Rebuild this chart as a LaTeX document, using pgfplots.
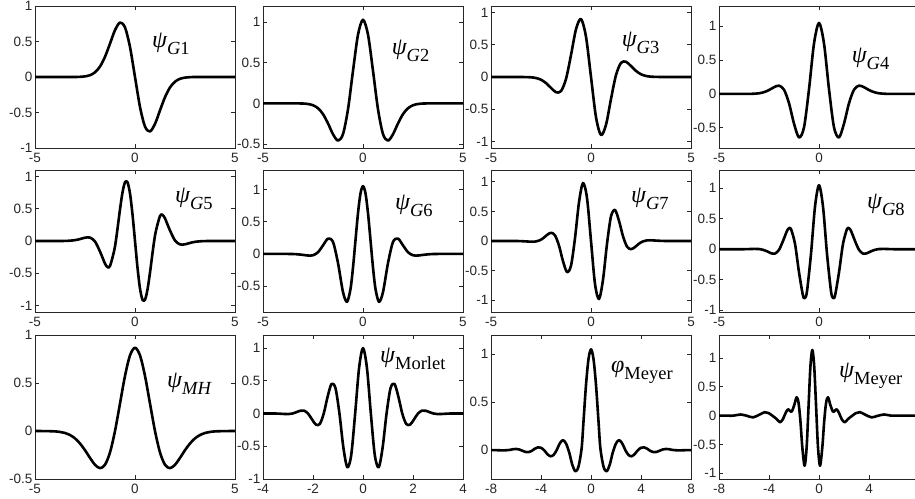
\documentclass[border=0pt]{standalone}
\usepackage{fontspec}
\setmainfont{Liberation Sans}
\newfontfamily\tnr{Liberation Serif}
\usepackage{pgfplots}
\pgfplotsset{compat=1.18}

\newcommand\wl[2]{{\fontsize{24}{26}\selectfont\tnr\itshape #1}\raisebox{-7pt}{\fontsize{18.5}{20}\selectfont\tnr #2}}

\pgfplotsset{
  wav/.style={
    scale only axis, width=200pt, height=142pt, anchor=north west,
    xmin=-5, xmax=5, xtick={-5,0,5},
    ytick={-1,-0.5,0,0.5,1},
    xtick pos=both, ytick pos=both,
    xticklabel pos=lower, yticklabel pos=left,
    tick align=inside, major tick length=4pt,
    axis line style={black!85, line width=0.7pt},
    every tick/.style={black!85, line width=0.7pt},
    tick label style={font=\fontsize{13.5}{14}\selectfont, text=black!85},
    yticklabel style={xshift=1pt},
    xticklabel style={yshift=-2pt},
    /pgf/number format/assume math mode=true,
  },
  cv/.style={black, line width=2.6pt, smooth, no marks, line join=round},
}

\begin{document}
\begin{tikzpicture}

% ---- row 1 ----
\begin{axis}[wav, at={(35pt,492pt)}, ymin=-1, ymax=1]
\addplot[cv] coordinates {
 (-5,0) (-4,0) (-3,0) (-2.75,0.0026) (-2.5,0.0087) (-2.25,0.0256) (-2,0.0657)
 (-1.75,0.147) (-1.5,0.284) (-1.25,0.470) (-1,0.660) (-0.75,0.767) (-0.5,0.699)
 (-0.25,0.422) (0,0) (0.25,-0.422) (0.5,-0.699) (0.75,-0.767) (1,-0.660)
 (1.25,-0.470) (1.5,-0.284) (1.75,-0.147) (2,-0.0657) (2.25,-0.0256)
 (2.5,-0.0087) (2.75,-0.0026) (3,0) (4,0) (5,0)};
\node[anchor=west, inner sep=0pt] at (rel axis cs:0.585,0.736) {\wl{ψ}{\textit{G}1}};
\end{axis}

\begin{axis}[wav, at={(263pt,492pt)}, ymin=-0.55, ymax=1.2]
\addplot[cv] coordinates {
 (-5,0) (-4,0) (-3.5,0) (-3,-0.002) (-2.75,-0.008) (-2.5,-0.023) (-2.25,-0.060)
 (-2,-0.132) (-1.75,-0.247) (-1.5,-0.380) (-1.25,-0.459) (-1,-0.379)
 (-0.75,-0.073) (-0.5,0.401) (-0.25,0.847) (0,1.03) (0.25,0.847) (0.5,0.401)
 (0.75,-0.073) (1,-0.379) (1.25,-0.459) (1.5,-0.380) (1.75,-0.247) (2,-0.132)
 (2.25,-0.060) (2.5,-0.023) (2.75,-0.008) (3,-0.002) (3.5,0) (4,0) (5,0)};
\node[anchor=west, inner sep=0pt] at (rel axis cs:0.643,0.683) {\wl{ψ}{\textit{G}2}};
\end{axis}

\begin{axis}[wav, at={(491pt,492pt)}, ymin=-1.1, ymax=1.1]
\addplot[cv] coordinates {
 (-5,0) (-4,0) (-3.5,0) (-3,-0.005) (-2.75,-0.016) (-2.5,-0.042) (-2.25,-0.094)
 (-2,-0.169) (-1.75,-0.236) (-1.5,-0.219) (-1.25,-0.030) (-1,0.340)
 (-0.75,0.740) (-0.5,0.899) (-0.25,0.623) (0,0) (0.25,-0.623) (0.5,-0.899)
 (0.75,-0.740) (1,-0.340) (1.25,0.030) (1.5,0.219) (1.75,0.236) (2,0.169)
 (2.25,0.094) (2.5,0.042) (2.75,0.016) (3,0.005) (3.5,0) (4,0) (5,0)};
\node[anchor=west, inner sep=0pt] at (rel axis cs:0.653,0.743) {\wl{ψ}{\textit{G}3}};
\end{axis}

\begin{axis}[wav, at={(719pt,492pt)}, ymin=-0.8, ymax=1.3, xtick={-5,0}]
\addplot[cv] coordinates {
 (-5,0) (-4,0) (-3.5,0) (-3.25,0.003) (-3,0.009) (-2.75,0.026) (-2.5,0.057)
 (-2.25,0.099) (-2,0.122) (-1.75,0.062) (-1.5,-0.138) (-1.25,-0.439)
 (-1,-0.644) (-0.75,-0.495) (-0.5,0.068) (-0.25,0.745) (0,1.05) (0.25,0.745)
 (0.5,0.068) (0.75,-0.495) (1,-0.644) (1.25,-0.439) (1.5,-0.138) (1.75,0.062)
 (2,0.122) (2.25,0.099) (2.5,0.057) (2.75,0.026) (3,0.009) (3.25,0.003)
 (3.5,0) (4,0) (5,0)};
\node[anchor=west, inner sep=0pt] at (rel axis cs:0.663,0.627) {\wl{ψ}{\textit{G}4}};
\end{axis}

% ---- row 2 ----
\begin{axis}[wav, at={(35pt,328pt)}, ymin=-1.1, ymax=1.1]
\addplot[cv] coordinates {
 (-5,0) (-4,0) (-3.5,0.001) (-3.25,0.005) (-3,0.013) (-2.75,0.030) (-2.5,0.051)
 (-2.25,0.053) (-2,-0.008) (-1.75,-0.163) (-1.5,-0.351) (-1.375,-0.403)
 (-1.25,-0.387) (-1,-0.084) (-0.75,0.489) (-0.625,0.752) (-0.5,0.910)
 (-0.375,0.911) (-0.25,0.737) (-0.125,0.412) (0,0) (0.125,-0.412)
 (0.25,-0.737) (0.375,-0.911) (0.5,-0.910) (0.625,-0.752) (0.75,-0.489)
 (1,0.084) (1.25,0.387) (1.375,0.403) (1.5,0.351) (1.75,0.163) (2,0.008)
 (2.25,-0.053) (2.5,-0.051) (2.75,-0.030) (3,-0.013) (3.25,-0.005)
 (3.5,-0.001) (4,0) (5,0)};
\node[anchor=west, inner sep=0pt] at (rel axis cs:0.70,0.80) {\wl{ψ}{\textit{G}5}};
\end{axis}

\begin{axis}[wav, at={(263pt,328pt)}, ymin=-0.9, ymax=1.3]
\addplot[cv] coordinates {
 (-5,0) (-4,0) (-3.5,-0.002) (-3.25,-0.007) (-3,-0.015) (-2.75,-0.025)
 (-2.5,-0.021) (-2.25,0.026) (-2,0.132) (-1.75,0.237) (-1.5,0.185)
 (-1.25,-0.142) (-1,-0.592) (-0.8,-0.743) (-0.625,-0.544) (-0.5,-0.211)
 (-0.375,0.213) (-0.25,0.632) (-0.125,0.938) (0,1.05) (0.125,0.938)
 (0.25,0.632) (0.375,0.213) (0.5,-0.211) (0.625,-0.544) (0.8,-0.743)
 (1,-0.592) (1.25,-0.142) (1.5,0.185) (1.75,0.237) (2,0.132) (2.25,0.026)
 (2.5,-0.021) (2.75,-0.025) (3,-0.015) (3.25,-0.007) (3.5,-0.002) (4,0) (5,0)};
\node[anchor=west, inner sep=0pt] at (rel axis cs:0.66,0.746) {\wl{ψ}{\textit{G}6}};
\end{axis}

\begin{axis}[wav, at={(491pt,328pt)}, ymin=-1.2, ymax=1.2]
\addplot[cv] coordinates {
 (-5,0) (-3.8,0) (-3.4,-0.004) (-3.2,-0.008) (-3,-0.012) (-2.8,-0.010)
 (-2.6,0.006) (-2.4,0.045) (-2.2,0.102) (-2,0.139) (-1.8,0.095) (-1.6,-0.079)
 (-1.4,-0.341) (-1.2,-0.524) (-1,-0.417) (-0.8,0.048) (-0.6,0.654)
 (-0.4,0.980) (-0.2,0.727) (0,0) (0.2,-0.727) (0.4,-0.980) (0.6,-0.654)
 (0.8,-0.048) (1,0.417) (1.2,0.524) (1.4,0.341) (1.6,0.079) (1.8,-0.095)
 (2,-0.139) (2.2,-0.102) (2.4,-0.045) (2.6,-0.006) (2.8,0.010) (3,0.012)
 (3.2,0.008) (3.4,0.004) (3.8,0) (5,0)};
\node[anchor=west, inner sep=0pt] at (rel axis cs:0.70,0.80) {\wl{ψ}{\textit{G}7}};
\end{axis}

\begin{axis}[wav, at={(719pt,328pt)}, ymin=-1.03, ymax=1.3, xtick={-5,0}]
\addplot[cv] coordinates {
 (-5,0) (-3.8,0) (-3.4,0.004) (-3.2,0.005) (-3,0.003) (-2.8,-0.009)
 (-2.6,-0.034) (-2.4,-0.065) (-2.2,-0.071) (-2,-0.010) (-1.8,0.135)
 (-1.6,0.301) (-1.5,0.344) (-1.4,0.331) (-1.2,0.088) (-1,-0.379) (-0.8,-0.762)
 (-0.7,-0.798) (-0.6,-0.689) (-0.4,-0.075) (-0.2,0.699) (0,1.05) (0.2,0.699)
 (0.4,-0.075) (0.6,-0.689) (0.7,-0.798) (0.8,-0.762) (1,-0.379) (1.2,0.088)
 (1.4,0.331) (1.5,0.344) (1.6,0.301) (1.8,0.135) (2,-0.010) (2.2,-0.071)
 (2.4,-0.065) (2.6,-0.034) (2.8,-0.009) (3,0.003) (3.2,0.005) (3.4,0.004)
 (3.8,0) (5,0)};
\node[anchor=west, inner sep=0pt] at (rel axis cs:0.74,0.754) {\wl{ψ}{\textit{G}8}};
\end{axis}

% ---- row 3 ----
\begin{axis}[wav, at={(35pt,163pt)}, height=144pt, ymin=-0.5, ymax=1]
\addplot[cv] coordinates {
 (-5,0) (-4.5,-0.001) (-4,-0.004) (-3.75,-0.010) (-3.5,-0.021) (-3.25,-0.042)
 (-3,-0.077) (-2.75,-0.130) (-2.5,-0.200) (-2.25,-0.280) (-2,-0.352)
 (-1.75,-0.387) (-1.5,-0.352) (-1.25,-0.223) (-1,0) (-0.75,0.286) (-0.5,0.574)
 (-0.25,0.788) (0,0.867) (0.25,0.788) (0.5,0.574) (0.75,0.286) (1,0)
 (1.25,-0.223) (1.5,-0.352) (1.75,-0.387) (2,-0.352) (2.25,-0.280)
 (2.5,-0.200) (2.75,-0.130) (3,-0.077) (3.25,-0.042) (3.5,-0.021)
 (3.75,-0.010) (4,-0.004) (4.5,-0.001) (5,0)};
\node[anchor=west, inner sep=0pt] at (rel axis cs:0.66,0.66) {\wl{ψ}{\textit{MH}}};
\end{axis}

\begin{axis}[wav, at={(263pt,163pt)}, height=144pt, ymin=-1, ymax=1.2,
  xmin=-4, xmax=4, xtick={-4,-2,0,2,4}]
\addplot[cv] coordinates {
 (-4,0) (-3.456,0) (-3.299,-0.003) (-3.142,-0.007) (-2.985,-0.008) (-2.827,0)
 (-2.670,0.020) (-2.513,0.043) (-2.356,0.044) (-2.199,0) (-2.042,-0.088)
 (-1.885,-0.169) (-1.728,-0.159) (-1.571,0) (-1.414,0.260) (-1.257,0.454)
 (-1.100,0.386) (-0.942,0) (-0.785,-0.519) (-0.628,-0.821) (-0.471,-0.633)
 (-0.314,0) (-0.157,0.698) (0,1) (0.157,0.698) (0.314,0) (0.471,-0.633)
 (0.628,-0.821) (0.785,-0.519) (0.942,0) (1.100,0.386) (1.257,0.454)
 (1.414,0.260) (1.571,0) (1.728,-0.159) (1.885,-0.169) (2.042,-0.088)
 (2.199,0) (2.356,0.044) (2.513,0.043) (2.670,0.020) (2.827,0)
 (2.985,-0.008) (3.142,-0.007) (3.299,-0.003) (3.456,0) (4,0)};
\node[anchor=west, inner sep=0pt] at (rel axis cs:0.585,0.833) {\wl{ψ}{Morlet}};
\end{axis}

\begin{axis}[wav, at={(491pt,163pt)}, height=144pt, ymin=-0.3, ymax=1.2,
  xmin=-8, xmax=8, xtick={-8,-4,0,4,8}]
\addplot[cv] coordinates {
 (-8,0) (-7.5,0) (-7,-0.002) (-6.5,0.003) (-6.25,0.010) (-6,0.013)
 (-5.75,0.008) (-5.5,-0.005) (-5.25,-0.018) (-5,-0.020) (-4.75,-0.008)
 (-4.5,0.015) (-4.25,0.030) (-4,0.025) (-3.75,0) (-3.5,-0.040) (-3.25,-0.063)
 (-3,-0.050) (-2.75,0) (-2.5,0.070) (-2.25,0.105) (-2,0.070) (-1.75,-0.020)
 (-1.5,-0.150) (-1.25,-0.220) (-1,-0.170) (-0.75,0.02) (-0.6,0.300) (-0.4,0.680)
 (-0.2,0.950) (0,1.05) (0.2,0.950) (0.4,0.680) (0.6,0.300) (0.75,0.02)
 (1,-0.170) (1.25,-0.220) (1.5,-0.150) (1.75,-0.020) (2,0.070) (2.25,0.105)
 (2.5,0.070) (2.75,0) (3,-0.050) (3.25,-0.063) (3.5,-0.040) (3.75,0)
 (4,0.025) (4.25,0.030) (4.5,0.015) (4.75,-0.008) (5,-0.020) (5.25,-0.018)
 (5.5,-0.005) (5.75,0.008) (6,0.013) (6.25,0.010) (6.5,0.003) (7,-0.002)
 (7.5,0) (8,0)};
\node[anchor=west, inner sep=0pt] at (rel axis cs:0.60,0.743) {\wl{φ}{Meyer}};
\end{axis}

\begin{axis}[wav, at={(719pt,163pt)}, height=144pt, ymin=-1.1, ymax=1.4,
  xmin=-8, xmax=8, xtick={-8,-4,0,4}]
\addplot[cv] coordinates {
 (-8,0) (-7.535,0) (-6.835,0) (-6.27,0.02) (-5.735,-0.005) (-5.27,-0.03)
 (-4.735,0.02) (-4.35,0.06) (-4.035,0.045) (-3.735,0) (-3.385,-0.06)
 (-3.12,-0.115) (-2.885,-0.06) (-2.685,0.04) (-2.485,0.11) (-2.335,0.085)
 (-2.185,0.07) (-1.985,0.18) (-1.79,0.32) (-1.635,0.22) (-1.485,-0.1)
 (-1.335,-0.55) (-1.15,-0.87) (-0.985,-0.535) (-0.835,0.17) (-0.685,0.86)
 (-0.535,1.14) (-0.385,0.86) (-0.235,0.17) (-0.085,-0.535) (0.08,-0.87)
 (0.265,-0.55) (0.415,-0.1) (0.565,0.22) (0.72,0.32) (0.915,0.18)
 (1.115,0.07) (1.265,0.085) (1.415,0.11) (1.615,0.04) (1.815,-0.06)
 (2.05,-0.115) (2.315,-0.06) (2.665,0) (2.965,0.045) (3.28,0.06)
 (3.665,0.02) (4.2,-0.03) (4.665,-0.005) (5.2,0.02) (5.765,0) (6.465,0) (8,0)};
\node[anchor=west, inner sep=0pt] at (rel axis cs:0.60,0.715) {\wl{ψ}{Meyer}};
\end{axis}

\pgfresetboundingbox
\path[use as bounding box] (0pt,0pt) rectangle (915pt,498pt);
\end{tikzpicture}
\end{document}
